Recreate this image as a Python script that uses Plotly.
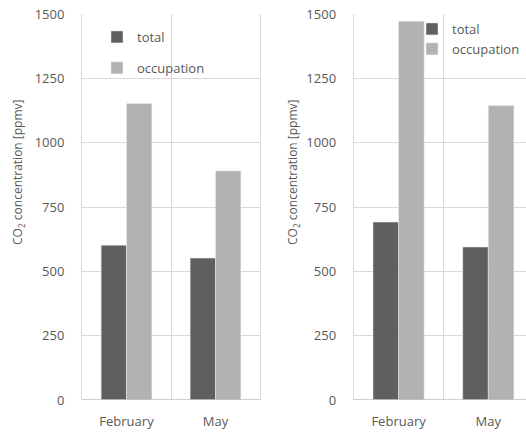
import plotly.graph_objects as go

# CO2 concentration per month, two rooms side by side
months = ["February", "May"]
total_a = [602, 552]
occupation_a = [1153, 891]
total_b = [692, 595]
occupation_b = [1473, 1145]
y_ticks = [0, 250, 500, 750, 1000, 1250, 1500]

DARK = "#5f5f5f"
LIGHT = "#b2b2b2"
GRID = "#d9d9d9"
TEXT = "#595959"
FONT = "Open Sans"

fig = go.Figure()
fig.add_trace(go.Bar(x=months, y=total_a, name="total", marker_color=DARK,
                     xaxis="x", yaxis="y", legend="legend", legendgroup="t"))
fig.add_trace(go.Bar(x=months, y=occupation_a, name="occupation", marker_color=LIGHT,
                     xaxis="x", yaxis="y", legend="legend", legendgroup="o"))
fig.add_trace(go.Bar(x=months, y=total_b, name="total", marker_color=DARK,
                     xaxis="x2", yaxis="y2", legend="legend2"))
fig.add_trace(go.Bar(x=months, y=occupation_b, name="occupation", marker_color=LIGHT,
                     xaxis="x2", yaxis="y2", legend="legend2"))

W, H = 526, 432
ydom = [(H - 400) / H, (H - 14.3) / H]

xcommon = dict(type="category", tickson="boundaries", showgrid=True, gridcolor=GRID,
               gridwidth=1, ticks="", zeroline=False, automargin=False,
               tickfont=dict(family=FONT, size=13, color=TEXT), ticklabelstandoff=12)
ycommon = dict(range=[0, 1500], tickvals=y_ticks, showgrid=True, gridcolor=GRID,
               gridwidth=1, zeroline=False, ticks="", automargin=False,
               linecolor=GRID, linewidth=1,
               tickfont=dict(family=FONT, size=13, color=TEXT), ticklabelstandoff=14)

legend_font = dict(family=FONT, size=13, color=TEXT)

fig.update_layout(
    width=W, height=H,
    margin=dict(l=0, r=0, t=0, b=0),
    paper_bgcolor="white", plot_bgcolor="white",
    barmode="group", bargap=0.43, bargroupgap=0,
    xaxis=dict(domain=[82 / W, 260 / W], range=[-0.5, 1.5], anchor="y",
               showline=False, **xcommon),
    yaxis=dict(domain=ydom, anchor="x", showline=True, mirror=True, **ycommon),
    xaxis2=dict(domain=[353.7 / W, 1.0], range=[-0.5, 1.42], anchor="y2",
                showline=False, **xcommon),
    yaxis2=dict(domain=ydom, anchor="x2", showline=True, mirror=False, **ycommon),
    legend=dict(x=(117 - 20) / W, y=(H - 22) / H, xanchor="left", yanchor="top",
                bgcolor="rgba(0,0,0,0)", font=legend_font, traceorder="grouped",
                tracegroupgap=11, itemwidth=30),
    legend2=dict(x=(432 - 20) / W, y=(H - 14) / H, xanchor="left", yanchor="top",
                 bgcolor="rgba(0,0,0,0)", font=legend_font, itemwidth=30),
    annotations=[
        dict(text="CO<sub>2</sub> concentration [ppmv]", textangle=-90, x=18 / W,
             y=(H - 173) / H, xref="paper", yref="paper", xanchor="center",
             yanchor="middle", showarrow=False,
             font=dict(family=FONT, size=12, color=TEXT)),
        dict(text="CO<sub>2</sub> concentration [ppmv]", textangle=-90, x=293 / W,
             y=(H - 173) / H, xref="paper", yref="paper", xanchor="center",
             yanchor="middle", showarrow=False,
             font=dict(family=FONT, size=12, color=TEXT)),
    ],
)

# bottom axis line, a touch darker than the gridlines
for xa, ya in (("x", "y"), ("x2", "y2")):
    fig.add_shape(type="line", xref=f"{xa} domain", yref=ya, x0=0, x1=1, y0=0, y1=0,
                  line=dict(color="#bfbfbf", width=1.5))

fig.write_html("out.html")
